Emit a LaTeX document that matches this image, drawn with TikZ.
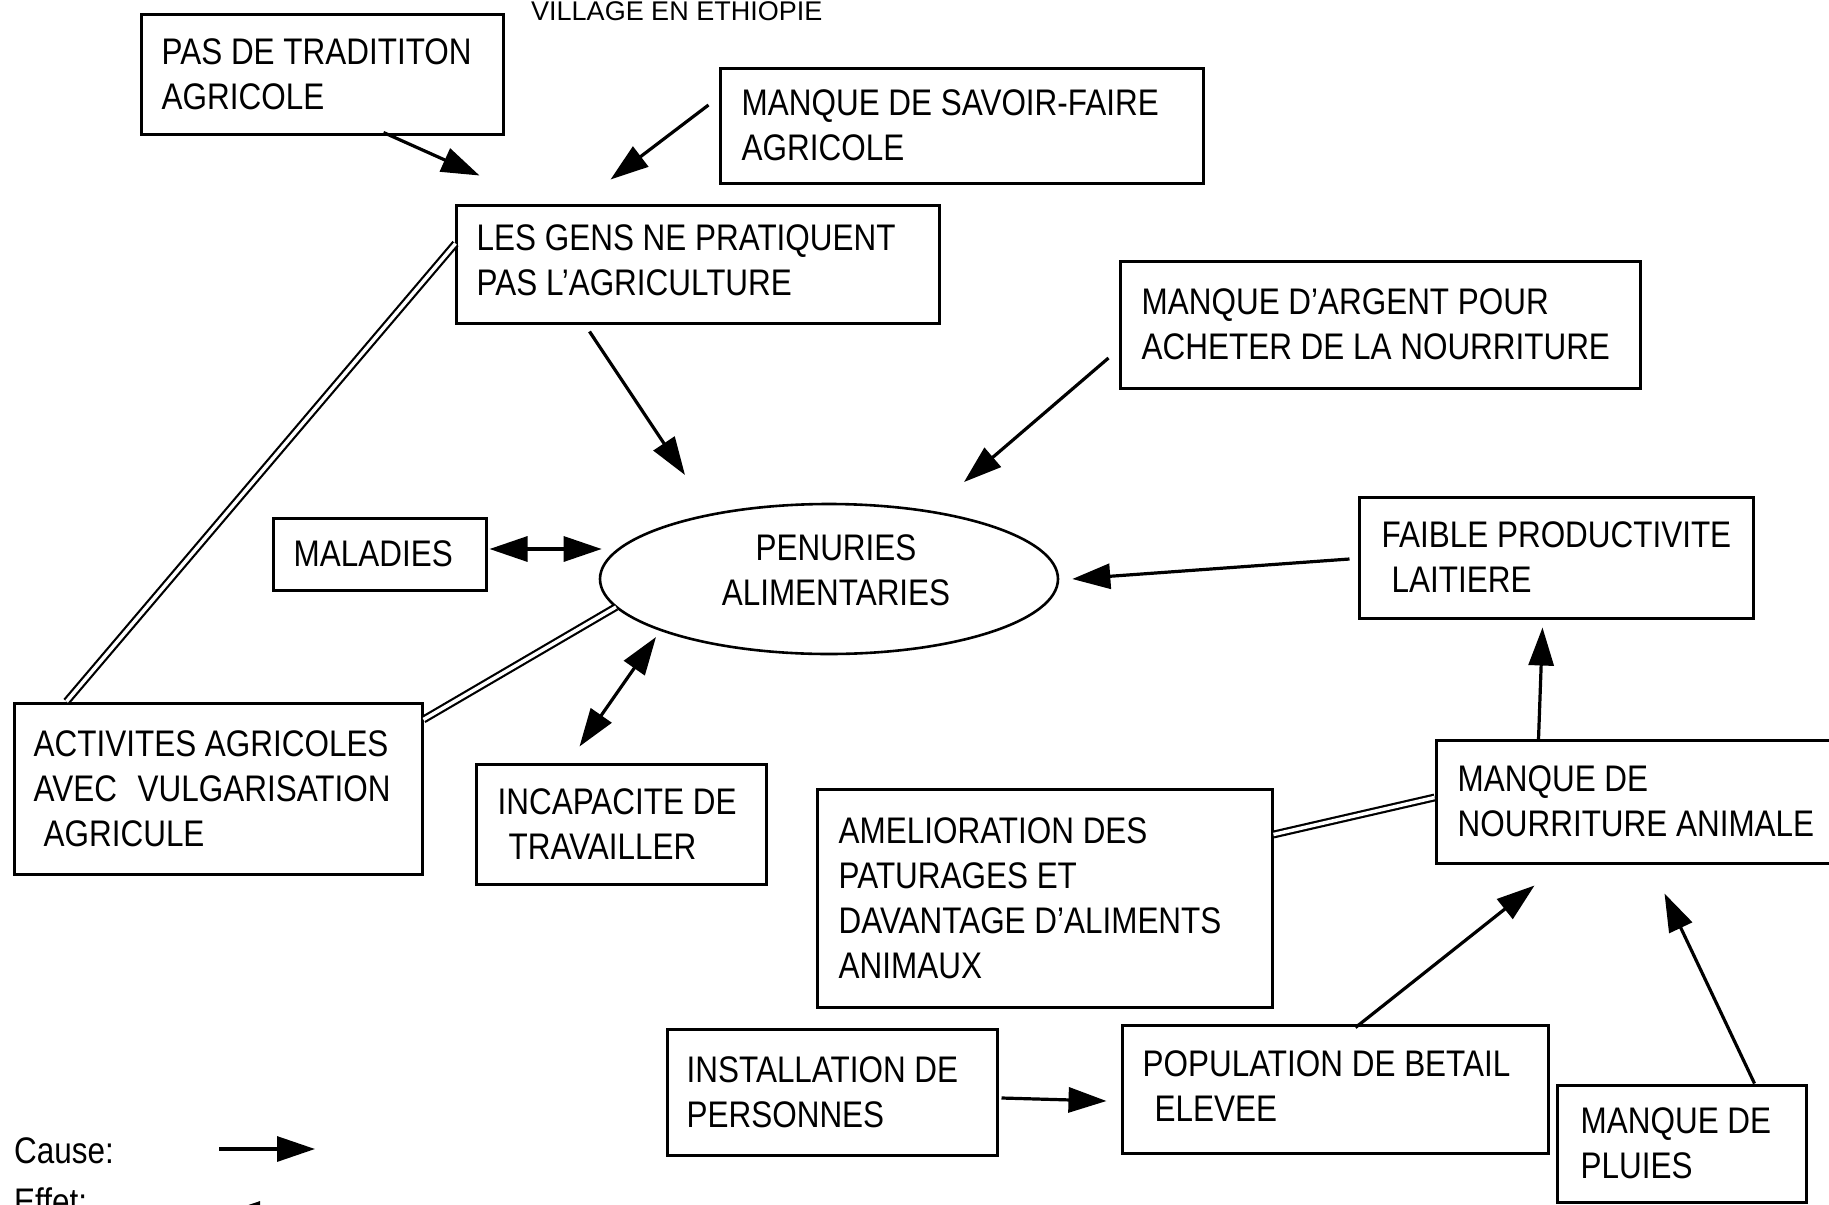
\documentclass[tikz,border=0pt]{standalone}
\usepackage{fontspec}
\setmainfont{Liberation Sans}[FakeStretch=0.85]
\newfontfamily\titlefont{Liberation Sans}
\usetikzlibrary{arrows.meta,shapes.geometric,calc}
\tikzset{
  box/.style={draw, line width=3pt, rectangle, inner sep=0pt},
  txt/.style={font=\fontsize{37}{45}\selectfont, align=left, inner sep=0pt, anchor=west},
  causearrow/.style={line width=3.2pt, -{Triangle[length=38pt,width=25pt]}},
  botharrow/.style={line width=3.2pt, {Triangle[length=38pt,width=25pt]}-{Triangle[length=38pt,width=25pt]}},
  link/.style={double, line width=2.2pt, double distance=3.5pt},
}
\begin{document}
\begin{tikzpicture}[x=1pt, y=-1pt]
\useasboundingbox (0,0) rectangle (1829,1205);
\clip (0,0) rectangle (1829,1205);
\fill[white] (0,0) rectangle (1829,1205);

% title (cut at top)
\node[font=\titlefont\fontsize{27}{30}\selectfont, anchor=base west, inner sep=0pt] (title) at (531,20) {VILLAGE EN ETHIOPIE};

% boxes
\node[box, minimum width=362pt, minimum height=120pt] (trad) at (322,74) {};
\node[txt] (tradt) at ($(trad.west)+(22,0)$) {PAS DE TRADITITON\\AGRICOLE};

\node[box, minimum width=483pt, minimum height=115pt] (savoir) at (961.5,125.5) {};
\node[txt] (savoirt) at ($(savoir.west)+(23,0)$) {MANQUE DE SAVOIR-FAIRE\\AGRICOLE};

\node[box, minimum width=483pt, minimum height=118pt] (gens) at (697.5,264) {};
\node[txt] (genst) at ($(gens.west)+(22,-4)$) {LES GENS NE PRATIQUENT\\PAS L'AGRICULTURE};

\node[box, minimum width=520pt, minimum height=127pt] (argent) at (1380,324.5) {};
\node[txt] (argentt) at ($(argent.west)+(23,0)$) {MANQUE D'ARGENT POUR\\ACHETER DE LA NOURRITURE};

\node[box, minimum width=213pt, minimum height=72pt] (maladies) at (379.5,554) {};
\node[txt] (maladiest) at ($(maladies.west)+(22,0)$) {MALADIES};

\node[draw, ellipse, line width=2.6pt, minimum width=458pt, minimum height=150pt, inner sep=0pt] (ell) at (829,579) {};
\node[font=\fontsize{37}{45}\selectfont, align=center, inner sep=0pt] (ellt) at (836,570) {PENURIES\\ALIMENTARIES};

\node[box, minimum width=394pt, minimum height=121pt] (faible) at (1556,557.5) {};
\node[txt] (faiblet) at ($(faible.west)+(24,0)$) {FAIBLE PRODUCTIVITE\\\hspace*{10pt}LAITIERE};

\node[box, minimum width=408pt, minimum height=171pt] (activ) at (218,788.5) {};
\node[txt] (activt) at ($(activ.west)+(21,0)$) {ACTIVITES AGRICOLES\\AVEC\hspace{12pt} VULGARISATION\\\hspace*{10pt}AGRICULE};

\node[box, minimum width=290pt, minimum height=120pt] (incap) at (621,824) {};
\node[txt] (incapt) at ($(incap.west)+(23,0)$) {INCAPACITE DE\\\hspace*{11pt}TRAVAILLER};

\node[box, minimum width=455pt, minimum height=218pt] (amelior) at (1044.5,898) {};
\node[txt] (ameliort) at ($(amelior.west)+(23,0)$) {AMELIORATION DES\\PATURAGES ET\\DAVANTAGE D'ALIMENTS\\ANIMAUX};

\node[box, minimum width=414pt, minimum height=123pt] (nourr) at (1643,801.5) {};
\node[txt] (nourrt) at ($(nourr.west)+(23,0)$) {MANQUE DE\\NOURRITURE ANIMALE};

\node[box, minimum width=330pt, minimum height=126pt] (install) at (832,1092) {};
\node[txt] (installt) at ($(install.west)+(21,0)$) {INSTALLATION DE\\PERSONNES};

\node[box, minimum width=426pt, minimum height=128pt] (popul) at (1335,1089) {};
\node[txt] (popult) at ($(popul.west)+(22,-3)$) {POPULATION DE BETAIL\\\hspace*{12pt}ELEVEE};

\node[box, minimum width=249pt, minimum height=117pt] (pluies) at (1681.5,1143.5) {};
\node[txt] (pluiest) at ($(pluies.west)+(25,0)$) {MANQUE DE\\PLUIES};

% connectors
\draw[causearrow] ($(trad.south west)+(244,-3)$) -- ($(gens.north west)+(25,-28)$);
\draw[causearrow] ($(savoir.west)+(-10,-20.5)$) -- ($(gens.north west)+(156,-24)$);
\draw[causearrow] ($(gens.south west)+(135,7)$) -- ($(ell.center)+(-144,-104)$);
\draw[causearrow] ($(argent.west)+(-10,33.5)$) -- ($(ell.center)+(135,-97)$);
\draw[botharrow] ($(maladies.east)+(2,-5)$) -- ($(ell.west)+(3,-30)$);
\draw[causearrow] ($(faible.west)+(-8,1.5)$) -- ($(ell.east)+(13,0)$);
\draw[link] ($(gens.north west)+(1,40)$) -- ($(activ.north west)+(54,0)$);
\draw[link] ($(activ.north east)+(0,18)$) -- ($(ell.center)+(-213,28)$);
\draw[botharrow] ($(incap.north west)+(105,-16)$) -- ($(ell.center)+(-173,58)$);
\draw[causearrow] ($(nourr.north west)+(104,1)$) -- ($(faible.south west)+(185,8)$);
\draw[link] ($(amelior.north east)+(0,47)$) -- ($(nourr.north west)+(0,59)$);
\draw[causearrow] ($(popul.north west)+(235,4)$) -- ($(nourr.south west)+(100,21)$);
\draw[causearrow] ($(pluies.north west)+(199,0)$) -- ($(nourr.south west)+(230,29)$);
\draw[causearrow] ($(install.east)+(3,6)$) -- ($(popul.west)+(-14,12)$);

% legend
\node[font=\fontsize{37}{45}\selectfont, anchor=base west, inner sep=0pt] (cause) at (14,1163) {Cause:};
\coordinate (c1) at (219,1149);
\coordinate (c2) at (315,1149);
\draw[causearrow] (c1) -- (c2);
\node[font=\fontsize{37}{45}\selectfont, anchor=base west, inner sep=0pt] (effet) at (14,1214) {Effet:};
\coordinate (e1) at (320,1214);
\coordinate (e2) at (222,1214);
\draw[causearrow] (e1) -- (e2);
\end{tikzpicture}
\end{document}
